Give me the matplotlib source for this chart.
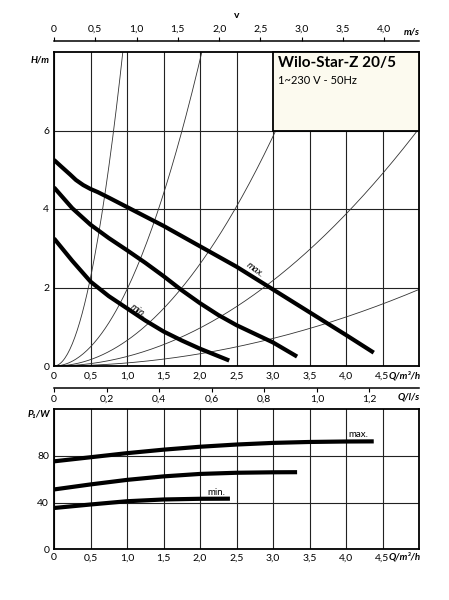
import numpy as np
import matplotlib.pyplot as plt
from matplotlib.patches import Rectangle

plt.rcParams['font.family'] = ['Lato', 'DejaVu Sans']

# pump curves H(Q) in m over Q in m3/h
q_max = [0, 0.1, 0.22, 0.3, 0.4, 0.5, 0.6, 0.75, 1.0, 1.25, 1.5, 2.0, 2.5,
         3.0, 3.5, 4.0, 4.38]
h_max = [5.25, 5.08, 4.88, 4.74, 4.61, 4.51, 4.43, 4.29, 4.05, 3.81, 3.57,
         3.05, 2.53, 1.95, 1.37, 0.79, 0.34]
q_mid = [0, 0.25, 0.5, 0.75, 1.0, 1.25, 1.5, 1.75, 2.0, 2.25, 2.5, 2.75,
         3.0, 3.33]
h_mid = [4.55, 4.02, 3.60, 3.26, 2.95, 2.63, 2.29, 1.93, 1.60, 1.30, 1.04,
         0.82, 0.60, 0.24]
q_min = [0, 0.25, 0.5, 0.75, 1.0, 1.25, 1.5, 1.75, 2.0, 2.2, 2.4]
h_min = [3.25, 2.68, 2.15, 1.78, 1.47, 1.16, 0.88, 0.65, 0.44, 0.29, 0.14]

# system curves H = k * Q^2
k_sys = [9.0, 1.95, 0.65, 0.242, 0.078]

# power input P1 in W
p_q_max = [0, 0.5, 1.0, 1.5, 2.0, 2.5, 3.0, 3.5, 4.0, 4.38]
p_max = [75.4, 78.9, 82.4, 85.4, 87.9, 89.8, 91.2, 92.0, 92.4, 92.5]
p_q_mid = [0, 0.5, 1.0, 1.5, 2.0, 2.5, 3.0, 3.33]
p_mid = [51.3, 55.6, 59.5, 62.5, 64.6, 65.6, 66.0, 66.1]
p_q_min = [0, 0.5, 1.0, 1.5, 2.0, 2.41]
p_min = [35.4, 38.4, 41.2, 42.7, 43.3, 43.4]

q_ticks = [0, 0.5, 1.0, 1.5, 2.0, 2.5, 3.0, 3.5, 4.0, 4.5]
q_labels = ['0', '0,5', '1,0', '1,5', '2,0', '2,5', '3,0', '3,5', '4,0', '4,5']
v_ticks = [0, 0.5, 1.0, 1.5, 2.0, 2.5, 3.0, 3.5, 4.0]
v_labels = ['0', '0,5', '1,0', '1,5', '2,0', '2,5', '3,0', '3,5', '4,0']
ls_ticks = [0, 0.2, 0.4, 0.6, 0.8, 1.0, 1.2]
ls_labels = ['0', '0,2', '0,4', '0,6', '0,8', '1,0', '1,2']
h_ticks = [0, 2, 4, 6]
p_ticks = [0, 40, 80]

Q_END = 5.0
PIPE_D = 0.020  # m, gives the velocity scale

W, H = 449, 600
fig = plt.figure(figsize=(W / 100, H / 100), dpi=100)

def fx(px):
    return px / W

def fy(py):
    return 1 - py / H

ax_h = fig.add_axes([fx(54), fy(366), 365 / W, 314 / H])
ax_p = fig.add_axes([fx(54), fy(549.3), 365 / W, 140 / H])

for ax in (ax_h, ax_p):
    ax.set_xlim(0, Q_END)
    ax.set_xticks(q_ticks)
    ax.set_xticklabels(q_labels)
    ax.grid(True, color='#222222', lw=0.8)
    ax.set_axisbelow(True)
    ax.tick_params(length=0, labelsize=7.5, pad=4)
    ax.tick_params(axis='y', pad=3.5)
    for s in ax.spines.values():
        s.set_linewidth(1.3)

bold_it = dict(fontsize=7, fontweight='bold', fontstyle='italic')

# head chart
ax_h.set_ylim(0, 8)
ax_h.set_yticks(h_ticks)
q = np.linspace(0, Q_END, 300)
for k in k_sys:
    ax_h.plot(q, k * q ** 2, color='#333333', lw=0.6, zorder=2)
for qq, hh in ((q_max, h_max), (q_mid, h_mid), (q_min, h_min)):
    ax_h.plot(qq, hh, color='black', lw=3.0, solid_capstyle='butt',
              solid_joinstyle='round', zorder=4)
ax_h.text(2.75, 2.45, 'max.', fontsize=7, fontstyle='italic', rotation=-37,
          ha='center', va='center', zorder=5)
ax_h.text(1.15, 1.4, 'min.', fontsize=7, fontstyle='italic', rotation=-35,
          ha='center', va='center', zorder=5)

ax_h.add_patch(Rectangle((3.0, 6.0), 2.0, 2.0, facecolor='#fcfaef',
                         edgecolor='black', lw=1.3, zorder=3, clip_on=False))
ax_h.text(3.07, 7.72, 'Wilo-Star-Z 20/5', fontsize=11, fontweight='bold',
          ha='left', va='center', zorder=6)
ax_h.text(3.07, 7.27, '1~230 V - 50Hz', fontsize=8, ha='left', va='center',
          zorder=6)

# velocity scale on top
v_end = Q_END / 3600 / (np.pi * (PIPE_D / 2) ** 2)
ax_v = ax_h.twiny()
ax_v.set_xlim(0, v_end)
ax_v.set_xticks(v_ticks)
ax_v.set_xticklabels(v_labels)
ax_v.spines['top'].set_position(('outward', 7.9))
ax_v.spines['top'].set_linewidth(1.1)
for s in ('left', 'right', 'bottom'):
    ax_v.spines[s].set_visible(False)
ax_v.tick_params(axis='x', direction='out', length=3, width=0.8,
                 labelsize=7.5, pad=2)
fig.text(fx(237), fy(15), 'v', fontsize=7.5, fontweight='bold',
         ha='center', va='center')
fig.text(fx(420), fy(32), 'm/s', ha='right', va='center', **bold_it)

# flow scale in l/s below the head chart
ax_l = ax_h.twiny()
ax_l.xaxis.set_ticks_position('bottom')
ax_l.xaxis.set_label_position('bottom')
ax_l.set_xlim(0, Q_END / 3.6)
ax_l.set_xticks(ls_ticks)
ax_l.set_xticklabels(ls_labels)
ax_l.spines['bottom'].set_position(('outward', 15.6))
ax_l.spines['bottom'].set_linewidth(1.1)
for s in ('left', 'right', 'top'):
    ax_l.spines[s].set_visible(False)
ax_l.tick_params(axis='x', direction='out', length=3, width=0.8,
                 labelsize=7.5, pad=2)
fig.text(fx(420), fy(397), 'Q/l/s', ha='right', va='center', **bold_it)

fig.text(fx(421), fy(376), 'Q/m³/h', ha='right', va='center', **bold_it)
fig.text(fx(50), fy(60), 'H/m', ha='right', va='center', **bold_it)

# power chart
ax_p.set_ylim(0, 120)
ax_p.set_yticks(p_ticks)
ax_p.tick_params(axis='x', pad=3)
for qq, pp in ((p_q_max, p_max), (p_q_mid, p_mid), (p_q_min, p_min)):
    ax_p.plot(qq, pp, color='black', lw=3.0, solid_capstyle='butt',
              solid_joinstyle='round', zorder=4)
ax_p.text(4.17, 98.2, 'max.', fontsize=7, ha='center', va='center')
ax_p.text(2.22, 48.8, 'min.', fontsize=7, ha='center', va='center')
fig.text(fx(421), fy(557), 'Q/m³/h', ha='right', va='center', **bold_it)
fig.text(fx(50), fy(414), 'P₁/W', ha='right', va='center', **bold_it)

fig.savefig('out.png', dpi=100, facecolor='white')
